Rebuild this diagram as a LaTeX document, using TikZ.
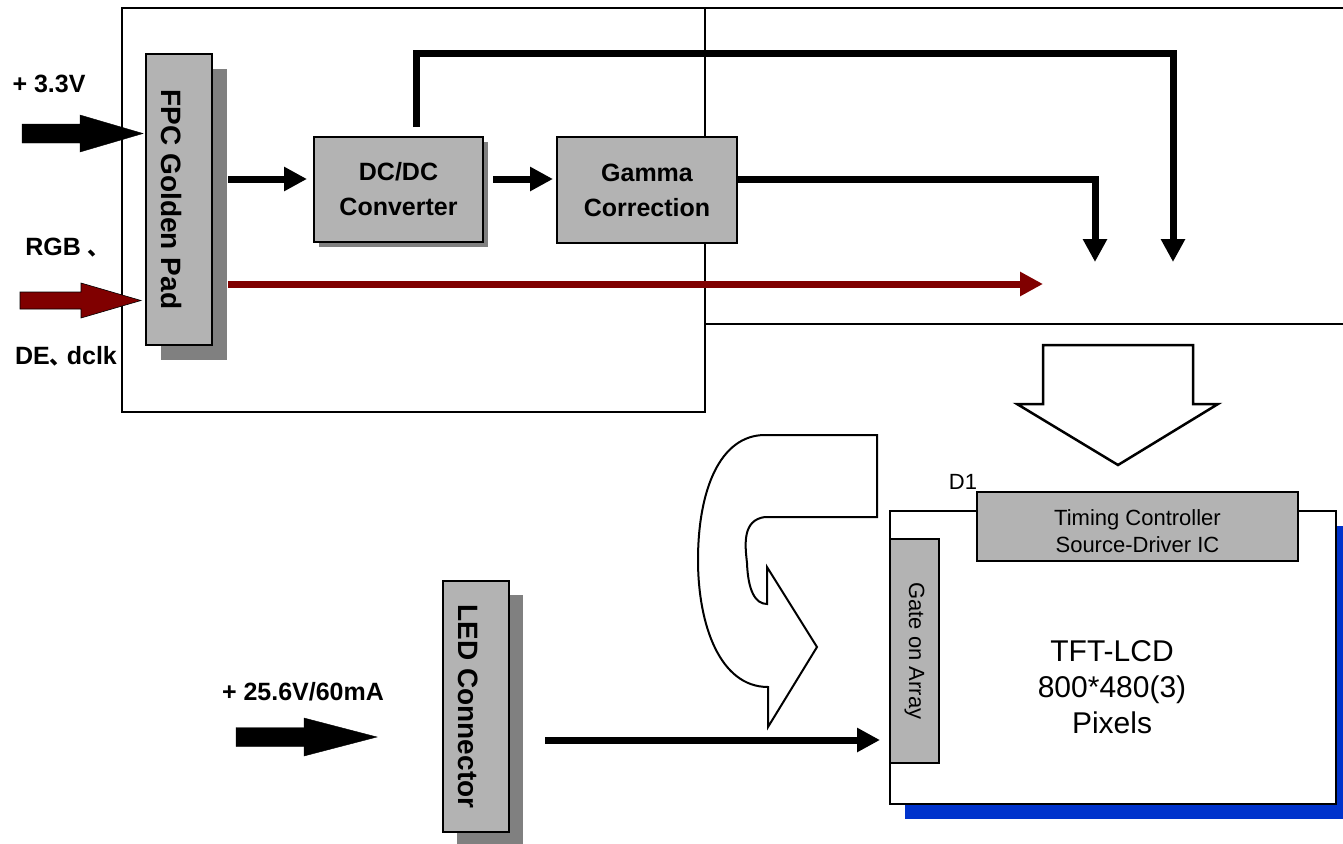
\documentclass[tikz,border=0pt]{standalone}
\usepackage{fontspec}
\setmainfont{Liberation Sans}
\newfontfamily\cjk{Noto Sans CJK SC}
\usetikzlibrary{arrows.meta,positioning,shadows,calc}
\definecolor{padgray}{HTML}{B3B3B3}
\definecolor{shadegray}{HTML}{808080}
\definecolor{rgbcol}{HTML}{800000}
\definecolor{panelblue}{HTML}{0033CC}
\newcommand{\fnt}[2]{\fontsize{#1}{#2}\selectfont}
\newcommand{\cjkcomma}{\makebox[17pt][l]{\cjk\fontsize{22}{26}\selectfont 、}}
\newcommand{\fatarrow}[7]{\draw[#1] (#2,#3-#5) -- (#4,#3-#5) -- (#4,#3-#6) -- (#7,#3) -- (#4,#3+#6) -- (#4,#3+#5) -- (#2,#3+#5) -- cycle;}
\tikzset{
  blk/.style={draw,line width=2pt,fill=padgray,inner sep=0pt,align=center},
  castshadow/.style 2 args={general shadow={fill=#1,shadow xshift=#2,shadow yshift=-#2}},
  wire/.style={line width=7pt,-{Triangle[length=23pt,width=23pt]}},
  frame/.style={line width=2pt},
  tag/.style={font=\fnt{25}{30}\bfseries,inner sep=0pt},
}

\begin{document}
\begin{tikzpicture}[x=1pt,y=-1pt]
\useasboundingbox (0,0) rectangle (1343,843);
% module frames
\draw[frame] (122,8) rectangle (705,412);
\draw[frame] (705,8) -- (1345,8) (705,324) -- (1345,324);

% input side
\node[tag] (v33) at (49,84) {+ 3.3V};
\node[tag] (rgb) at (65,248) {RGB \cjkcomma};
\node[tag] (de) at (66,356) {DE\cjkcomma dclk};
\fatarrow{fill=black}{22}{133.5}{80}{9.5}{18.5}{143}
\fatarrow{fill=rgbcol,draw=black,line width=0.6pt}{20}{300.5}{81}{8.5}{17.5}{141}

\node[blk,castshadow={shadegray}{15pt},minimum width=66pt,minimum height=291pt] (fpc) at (179,199.5) {};
\node[font=\fnt{28}{34}\bfseries,rotate=-90,inner sep=0pt] (fpclbl) at ([xshift=-7pt]fpc.center) {FPC Golden Pad};
\node[blk,castshadow={shadegray}{5pt},minimum width=169pt,minimum height=105pt,font=\fnt{25}{35}\bfseries] (dcdc) at (398.5,189.5) {DC/DC\\Converter};
\node[blk,minimum width=180pt,minimum height=106pt,font=\fnt{25}{35}\bfseries] (gamma) at (647,190) {Gamma\\Correction};

% wires
\coordinate (gin) at (1095,262);
\coordinate (vin) at (1173,262);
\coordinate (rin) at (1043,284);
\draw[wire] ($(fpc.east |- dcdc.west)+(15,-10.5)$) -- ($(dcdc.west)+(-6,-10.5)$);
\draw[wire] ($(dcdc.east)+(9,-10.5)$) -- ($(gamma.west |- dcdc.east)+(-3,-10.5)$);
\draw[wire] ($(dcdc.north)+(17.5,-9)$) -- ++(0,-73) -| (vin);
\draw[wire] ($(gamma.east)+(0,-11)$) -| (gin);
\draw[wire,rgbcol] ($(fpc.east)+(15,84.5)$) -- (rin);

% hollow arrows
\draw[line width=2.5pt,fill=white] (1043,345) -- (1193,345) -- (1193,404) -- (1218,404) -- (1118,465) -- (1017,404) -- (1043,404) -- cycle;
\draw[line width=2pt,fill=white] (765,435) -- (877,435) -- (877,517) -- (765,517)
  .. controls (742,520) and (745,545) .. (747,563)
  .. controls (748,590) and (755,604) .. (767,604)
  -- (767,567) -- (817,647) -- (768,727) -- (768,687)
  .. controls (720,687) and (698,625) .. (698,560)
  .. controls (698,490) and (720,435) .. (765,435) -- cycle;

% backlight
\node[tag] (v256) at (303,692) {+ 25.6V/60mA};
\fatarrow{fill=black}{236}{737}{304}{9.5}{19}{377}
\node[blk,castshadow={shadegray}{14pt},minimum width=66pt,minimum height=251pt] (led) at (476,706.5) {};
\node[font=\fnt{28}{34}\bfseries,rotate=-90,inner sep=0pt] (ledlbl) at ([xshift=-8pt]led.center) {LED Connector};

% panel
\node[draw,line width=2pt,fill=white,castshadow={panelblue}{15pt},minimum width=446pt,minimum height=293pt] (panel) at (1113,657.5) {};
\node[blk,minimum width=321pt,minimum height=69pt] (tcon) at (1137.5,526.5) {};
\node[font=\fnt{22}{27},align=center,inner sep=0pt] (tcontxt) at (1137.5,531) {Timing Controller\\Source-Driver IC};
\node[blk,minimum width=49pt,minimum height=224pt] (gate) at (914.5,651) {};
\node[font=\fnt{22}{27},rotate=-90,inner sep=0pt] (gatelbl) at (gate.center) {Gate on Array};
\node[font=\fnt{30}{36},align=center] (pix) at (1112,687) {TFT-LCD\\800*480(3)\\Pixels};
\node[font=\fnt{22}{27},inner sep=0pt] (d1) at (963,482) {D1};
\draw[wire] ($(led.east)+(35,33.5)$) -- ($(gate.west)+(-9,89)$);
\end{tikzpicture}
\end{document}
